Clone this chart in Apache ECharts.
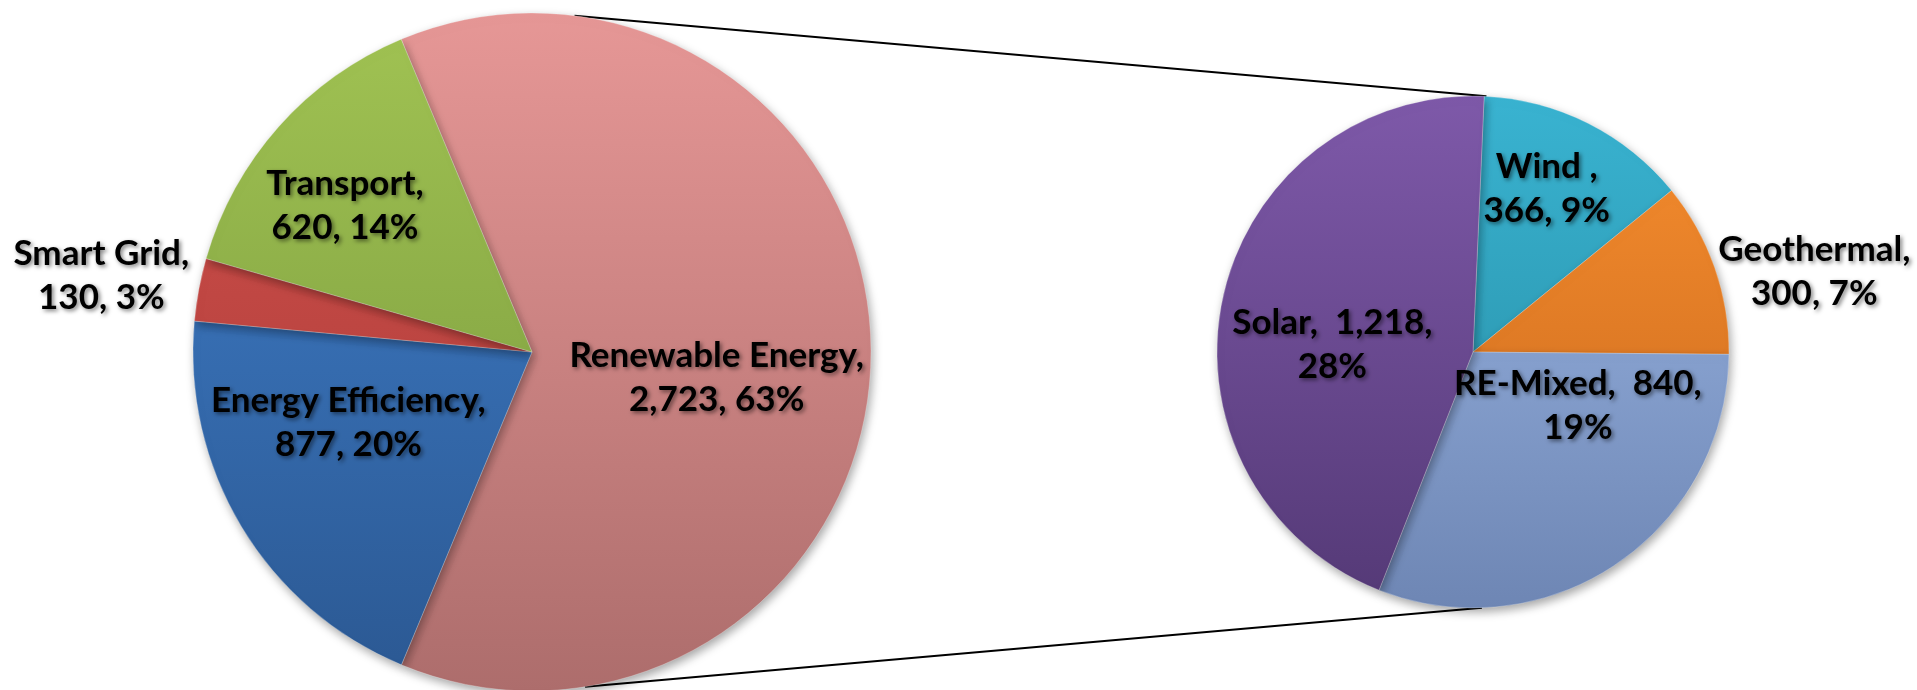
<!DOCTYPE html>
<html><head><meta charset="utf-8">
<script src="https://cdn.jsdelivr.net/npm/echarts@6/dist/echarts.min.js"></script>
<style>html,body{margin:0;padding:0;background:#fff}#c{width:1917px;height:690px}</style>
</head><body><div id="c"></div>
<script>
// ---- data ----
const mainCategories = ['Renewable Energy', 'Energy Efficiency', 'Smart Grid', 'Transport'];
const mainValues = [2723, 877, 130, 620];
const mainPercents = [63, 20, 3, 14];
const subCategories = ['Wind ', 'Geothermal', 'RE-Mixed', 'Solar'];
const subValues = [366, 300, 840, 1218];
const subPercents = [9, 7, 19, 28];
// where the line break falls in each sub label ('name' or 'value')
const subBreaks = ['name', 'name', 'value', 'value'];

// ---- styles / layout ----
const mainColors = [['#E69796', '#AD6D6C'], ['#4080CD', '#2B5892'], ['#D4514D', '#A43935'], ['#A1C353', '#74943A']];
const subColors = [['#39B3D1', '#25889E'], ['#F78E2F', '#C6661B'], ['#9DB9E7', '#6E86B4'], ['#7E59A9', '#543976']];
const L = { cx: 532, cy: 352, r: 339, start: 112.7 };
const R = { cx: 1473, cy: 352, r: 256, start: 87.5 };
// label placement: [angle deg (math), radius fraction]
const mainLabelPos = [[-8, 0.55], [-159, 0.58], [170, 1.29], [142, 0.70]];
const subLabelPos = [[65.7, 0.70], [13.3, 1.37], [-27, 0.46], [177, 0.55]];

const fmt = v => v.toLocaleString('en-US');

function grad(c, g) {
  return new echarts.graphic.LinearGradient(0, g.cy - g.r, 0, g.cy + g.r,
    [{ offset: 0, color: c[0] }, { offset: 1, color: c[1] }], true);
}
function polar(g, a, f) {
  const t = a * Math.PI / 180;
  return [g.cx + f * g.r * Math.cos(t), g.cy - f * g.r * Math.sin(t)];
}

const mainData = mainCategories.map((n, i) => ({
  name: n, value: mainValues[i],
  itemStyle: { color: grad(mainColors[i], L) },
  label: { formatter: n + ',\n' + fmt(mainValues[i]) + ', ' + mainPercents[i] + '%' }
}));
const subData = subCategories.map((n, i) => ({
  name: n, value: subValues[i],
  itemStyle: { color: grad(subColors[i], R) },
  label: {
    formatter: subBreaks[i] === 'name'
      ? n + ',\n' + fmt(subValues[i]) + ', ' + subPercents[i] + '%'
      : n + ',  ' + fmt(subValues[i]) + ',\n' + subPercents[i] + '%'
  }
}));

const labelStyle = {
  show: true, position: 'inside', color: '#000',
  fontFamily: 'Lato', fontWeight: 'bold', fontSize: 35, lineHeight: 44,
  align: 'center', verticalAlign: 'middle',
  textShadowColor: 'rgba(0,0,0,0.5)', textShadowBlur: 4,
  textShadowOffsetX: 2, textShadowOffsetY: 2
};
const itemBase = {
  borderColor: 'rgba(255,255,255,0.25)', borderWidth: 1,
  shadowBlur: 10, shadowColor: 'rgba(0,0,0,0.35)', shadowOffsetX: 2, shadowOffsetY: 4
};

function layoutFor(g, pos) {
  return function (p) {
    const xy = polar(g, pos[p.dataIndex][0], pos[p.dataIndex][1]);
    return { x: xy[0], y: xy[1], align: 'center', verticalAlign: 'middle' };
  };
}

const lt = polar(L, 82.8, 1), lb = polar(L, -81, 1);
const rt = polar(R, 87, 1), rb = polar(R, -88, 1);

const chart = echarts.init(document.getElementById('c'), null, { renderer: 'canvas' });
chart.setOption({
  backgroundColor: '#fff',
  animation: false,
  graphic: [
    { type: 'line', z: 0, shape: { x1: lt[0], y1: lt[1], x2: rt[0], y2: rt[1] }, style: { stroke: '#000', lineWidth: 2 } },
    { type: 'line', z: 0, shape: { x1: lb[0], y1: lb[1], x2: rb[0], y2: rb[1] }, style: { stroke: '#000', lineWidth: 2 } }
  ],
  series: [
    {
      type: 'pie', center: [L.cx, L.cy], radius: L.r, startAngle: L.start, clockwise: true,
      data: mainData, label: labelStyle, labelLine: { show: false },
      labelLayout: layoutFor(L, mainLabelPos),
      itemStyle: itemBase, emphasis: { disabled: true }, avoidLabelOverlap: false
    },
    {
      type: 'pie', center: [R.cx, R.cy], radius: R.r, startAngle: R.start, clockwise: true,
      data: subData, label: labelStyle, labelLine: { show: false },
      labelLayout: layoutFor(R, subLabelPos),
      itemStyle: itemBase, emphasis: { disabled: true }, avoidLabelOverlap: false
    }
  ]
});
</script></body></html>
